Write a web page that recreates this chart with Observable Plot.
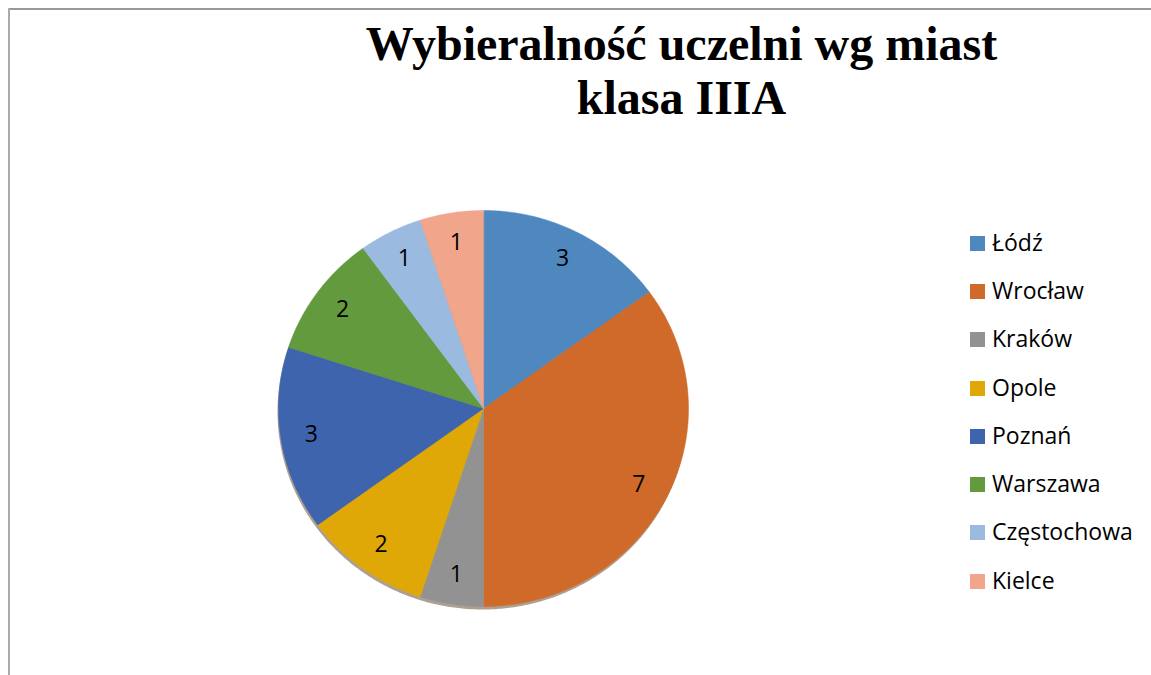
<!DOCTYPE html>
<html>
<head>
<meta charset="utf-8">
<script src="https://cdn.jsdelivr.net/npm/d3@7"></script>
<script src="https://cdn.jsdelivr.net/npm/@observablehq/plot@0.6"></script>
<style>
  html, body { margin: 0; padding: 0; background: #fff; }
  #wrap { position: relative; width: 1151px; height: 675px; overflow: hidden; }
  #frameTop { position: absolute; left: 8px; top: 8px; width: 1143px; height: 0; border-top: 2px solid #999; }
  #frameLeft { position: absolute; left: 8px; top: 8px; width: 0; height: 667px; border-left: 2px solid #aaa; }
  #title { position: absolute; left: 0; width: 1151px; top: 17px; text-align: center; padding-left: 212px; box-sizing: border-box;
           font-family: "Liberation Serif", "Times New Roman", serif; font-weight: bold; font-size: 48px; line-height: 54px; color: #000; }
  #chart { position: absolute; left: 0; top: 0; }
  #legend { position: absolute; left: 970px; top: 219px; font-family: "Open Sans", sans-serif; font-size: 23px; color: #000; }
  .item { display: flex; align-items: center; height: 48.3px; }
  .sw { width: 15px; height: 15px; margin-right: 7px; flex: none; }
  .item span { line-height: 1; position: relative; top: -1px; }
</style>
</head>
<body>
<div id="wrap">
  <div id="frameTop"></div>
  <div id="frameLeft"></div>
  <div id="chart"></div>
  <div id="title">Wybieralność uczelni wg miast<br>klasa IIIA</div>
  <div id="legend"></div>
</div>
<script>
const titleLines = ["Wybieralność uczelni wg miast", "klasa IIIA"];
const cities = ["Łódź", "Wrocław", "Kraków", "Opole", "Poznań", "Warszawa", "Częstochowa", "Kielce"];
const counts = [3, 7, 1, 2, 3, 2, 1, 1];
const colors = ["#4f87bf", "#d06a2a", "#929292", "#e0a806", "#3f64ae", "#629a3d", "#9abae0", "#f1a58a"];

const total = d3.sum(counts);
// slices clockwise from 12 o'clock
let acc = 0;
const slices = cities.map((c, i) => {
  const a0 = acc / total * 2 * Math.PI;
  acc += counts[i];
  const a1 = acc / total * 2 * Math.PI;
  return {city: c, value: counts[i], a0, a1, mid: (a0 + a1) / 2};
});

const outline = [];
for (const s of slices) {
  outline.push({city: s.city, x: 0, y: 0});
  const n = Math.max(2, Math.ceil((s.a1 - s.a0) / 0.01));
  for (let k = 0; k <= n; k++) {
    const a = s.a0 + (s.a1 - s.a0) * k / n;
    outline.push({city: s.city, x: Math.sin(a), y: Math.cos(a)});
  }
}
const rim = d3.range(0, 2 * Math.PI + 0.01, 0.01).map(a => ({x: Math.sin(a), y: Math.cos(a)}));
const labelR = 0.85;
const labels = slices.map(s => ({city: s.city, value: s.value, x: labelR * Math.sin(s.mid), y: labelR * Math.cos(s.mid)}));

const cx = 483, cy = 408, rx = 205, ry = 198;
const chart = Plot.plot({
  width: 1151,
  height: 675,
  margin: 0,
  x: {domain: [-1, 1], range: [cx - rx, cx + rx], axis: null},
  y: {domain: [-1, 1], range: [cy + ry, cy - ry], axis: null},
  color: {domain: cities, range: colors},
  style: {background: "transparent"},
  marks: [
    Plot.line(rim, {x: "x", y: "y", fill: "#6b5237", fillOpacity: 0.55, stroke: "none", dy: 3, dx: -1, curve: "linear-closed"}),
    Plot.line(outline, {x: "x", y: "y", z: "city", fill: "city", stroke: "city", strokeWidth: 0.5, curve: "linear-closed"}),
    Plot.text(labels, {x: "x", y: "y", text: "value", fill: "#000", fontSize: 23, fontFamily: "Open Sans, sans-serif"})
  ]
});
document.getElementById("chart").appendChild(chart);

const leg = document.getElementById("legend");
cities.forEach((c, i) => {
  const it = document.createElement("div");
  it.className = "item";
  const sw = document.createElement("div");
  sw.className = "sw";
  sw.style.background = colors[i];
  const t = document.createElement("span");
  t.textContent = c;
  it.appendChild(sw); it.appendChild(t);
  leg.appendChild(it);
});
</script>
</body>
</html>
